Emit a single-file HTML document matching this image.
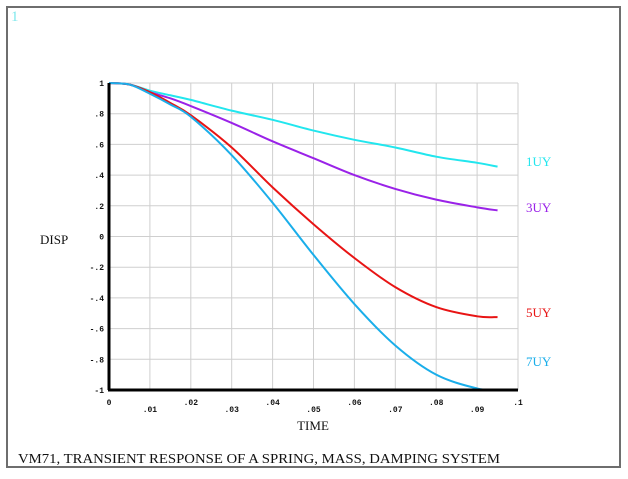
<!DOCTYPE html>
<html><head><meta charset="utf-8"><style>
body{margin:0;background:#fff;width:628px;height:474px;overflow:hidden}
svg text{font-family:"Liberation Serif",serif}
</style></head><body>
<svg width="628" height="474">
<rect x="7" y="7" width="613" height="460" fill="#fff" stroke="#6e6e6e" stroke-width="2"/>
<text x="11" y="21" fill="#7fe8ec" font-size="15">1</text>
<g id="grid"></g><g id="series"></g><g id="axes"></g>
<text x="40" y="244" font-size="13" fill="#111">DISP</text>
<text x="313" y="430" font-size="13" fill="#111" text-anchor="middle">TIME</text>
<text x="18" y="463" font-size="14" fill="#111" textLength="482" lengthAdjust="spacingAndGlyphs">VM71, TRANSIENT RESPONSE OF A SPRING, MASS, DAMPING SYSTEM</text>
</svg>
<script>
const xs=[0,0.005,0.01,0.015,0.02,0.03,0.04,0.05,0.06,0.07,0.08,0.09,0.095];
const s1=[1,0.99,0.95,0.92,0.89,0.82,0.76,0.69,0.63,0.58,0.52,0.48,0.455];
const s3=[1,0.99,0.94,0.90,0.85,0.74,0.62,0.51,0.40,0.31,0.24,0.19,0.17];
const s5=[1,0.99,0.94,0.87,0.79,0.58,0.32,0.08,-0.14,-0.33,-0.46,-0.52,-0.525];
const s7=[1,0.99,0.93,0.86,0.78,0.53,0.22,-0.12,-0.44,-0.71,-0.90,-0.99,-1.0];
const seriesNames=["1UY","3UY","5UY","7UY"];
const xTicks=[0,0.01,0.02,0.03,0.04,0.05,0.06,0.07,0.08,0.09,0.1];
const xTickLabels=["0",".01",".02",".03",".04",".05",".06",".07",".08",".09",".1"];
const yTicks=[1,0.8,0.6,0.4,0.2,0,-0.2,-0.4,-0.6,-0.8,-1];
const yTickLabels=["1",".8",".6",".4",".2","0","-.2","-.4","-.6","-.8","-1"];
const NS="http://www.w3.org/2000/svg";
const X=v=>109+v/0.1*409, Y=v=>83+(1-v)/2*307;
const grid=document.getElementById('grid'),axes=document.getElementById('axes'),ser=document.getElementById('series');
function mk(tag,attrs,parent){const e=document.createElementNS(NS,tag);for(const k in attrs)e.setAttribute(k,attrs[k]);parent.appendChild(e);return e;}
xTicks.forEach((t,i)=>{
 const l=mk('line',{x1:X(t),x2:X(t),y1:Y(1),y2:Y(-1),stroke:'#cfcfcf','stroke-width':1},grid);
 
 
 const tx=mk('text',{x:X(t),y:i%2?412:405,'font-size':8,fill:'#111','text-anchor':'middle','font-weight':'bold'},axes);
 tx.style.fontFamily='"Liberation Mono",monospace';
 tx.textContent=xTickLabels[i];
 
 
});
yTicks.forEach((t,i)=>{
 const l=mk('line',{x1:X(0),x2:X(0.1),y1:Y(t),y2:Y(t),stroke:'#cfcfcf','stroke-width':1},grid);
 
 
 const tx=mk('text',{x:104,y:Y(t)+3,'font-size':8,fill:'#111','text-anchor':'end','font-weight':'bold'},axes);
 tx.style.fontFamily='"Liberation Mono",monospace';
 tx.textContent=yTickLabels[i];
 
 
});
const ya=mk('line',{x1:X(0),x2:X(0),y1:Y(1),y2:Y(-1),stroke:'#000','stroke-width':3},axes);


const xa=mk('line',{x1:X(0)-1,x2:X(0.1),y1:Y(-1),y2:Y(-1),stroke:'#000','stroke-width':3},axes);


const data=[s1,s3,s5,s7],cols=['#22e6ee','#9a22e8','#e81414','#1aaeea'];
function smooth(pts){let d=`M${pts[0][0]},${pts[0][1]}`;for(let i=0;i<pts.length-1;i++){const p0=pts[i-1]||pts[i],p1=pts[i],p2=pts[i+1],p3=pts[i+2]||p2;
 d+=` C${p1[0]+(p2[0]-p0[0])/6},${p1[1]+(p2[1]-p0[1])/6} ${p2[0]-(p3[0]-p1[0])/6},${p2[1]-(p3[1]-p1[1])/6} ${p2[0]},${p2[1]}`;}return d;}
data.forEach((s,k)=>{
 const p=mk('path',{d:smooth(xs.map((x,i)=>[X(x),Y(s[i])])),fill:'none',stroke:cols[k],'stroke-width':2},ser);
 
 
 const ly=[166,212,317,366][k];
 const t=mk('text',{x:526,y:ly,'font-size':13,fill:cols[k]},axes);
 t.textContent=seriesNames[k];
 
 
});
</script>
</body></html>
